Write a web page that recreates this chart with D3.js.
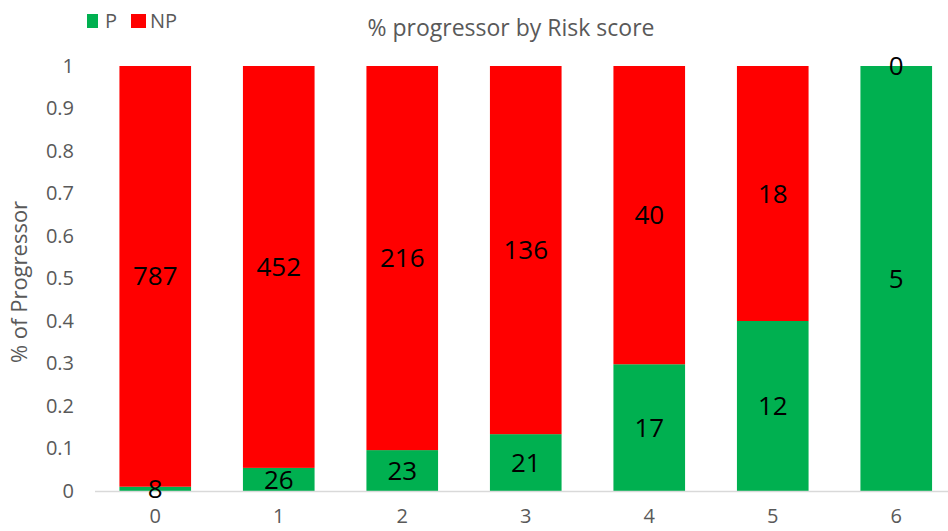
<!DOCTYPE html>
<html>
<head>
<meta charset="utf-8">
<script src="https://cdn.jsdelivr.net/npm/d3@7"></script>
<style>
  html, body { margin: 0; padding: 0; background: #fff; }
  svg { display: block; font-family: "Open Sans", "Noto Sans", sans-serif; }
</style>
</head>
<body>
<svg id="chart" width="948" height="531"></svg>
<script>
// Risk score categories and counts of progressors (P) / non-progressors (NP)
const categories = ["0", "1", "2", "3", "4", "5", "6"];
const progressors = [8, 26, 23, 21, 17, 12, 5];
const nonProgressors = [787, 452, 216, 136, 40, 18, 0];
const yTicks = [0, 0.1, 0.2, 0.3, 0.4, 0.5, 0.6, 0.7, 0.8, 0.9, 1];
const seriesNames = ["P", "NP"];
const seriesColors = ["#00B050", "#FF0000"];

const rows = categories.map((c, i) => {
  const total = progressors[i] + nonProgressors[i];
  return { cat: c, P: progressors[i] / total, NP: nonProgressors[i] / total,
           Pn: progressors[i], NPn: nonProgressors[i] };
});

const svg = d3.select("#chart");
const plot = { top: 66, bottom: 491 };

const x = d3.scaleBand().domain(categories).range([93.5, 958]).paddingInner(0.42).paddingOuter(0.21);
const y = d3.scaleLinear().domain([0, 1]).range([plot.bottom, plot.top]);

const layers = d3.stack().keys(seriesNames)(rows);
const color = d3.scaleOrdinal().domain(seriesNames).range(seriesColors);

// y axis tick labels (no axis line)
const yAxis = svg.append("g").attr("transform", "translate(74,0)")
  .call(d3.axisLeft(y).tickValues(yTicks).tickSize(0).tickPadding(0).tickFormat(d3.format("~g")));
yAxis.select(".domain").remove();
yAxis.selectAll("text").attr("fill", "#595959").attr("font-size", 20)
  .attr("font-family", "'Open Sans', sans-serif");

// stacked bars
svg.append("g").selectAll("g").data(layers).join("g")
  .attr("fill", d => color(d.key))
  .selectAll("rect").data(d => d).join("rect")
  .attr("x", d => x(d.data.cat))
  .attr("width", x.bandwidth())
  .attr("y", d => y(d[1]))
  .attr("height", d => y(d[0]) - y(d[1]));

// baseline
svg.append("line").attr("x1", 95).attr("x2", 948)
  .attr("y1", y(0) + 0.5).attr("y2", y(0) + 0.5)
  .attr("stroke", "#d9d9d9").attr("stroke-width", 1.5);

// x axis labels
const xAxis = svg.append("g").attr("transform", `translate(0,${y(0)})`)
  .call(d3.axisBottom(x).tickSize(0).tickPadding(18));
xAxis.select(".domain").remove();
xAxis.selectAll("text").attr("fill", "#595959").attr("font-size", 20)
  .attr("font-family", "'Open Sans', sans-serif");

// count labels centred in each segment
layers.forEach(layer => {
  svg.append("g").selectAll("text").data(layer).join("text")
    .attr("x", d => x(d.data.cat) + x.bandwidth() / 2)
    .attr("y", d => y((d[0] + d[1]) / 2))
    .attr("dy", "0.35em")
    .attr("text-anchor", "middle")
    .attr("font-size", 26)
    .attr("fill", "#000")
    .text(d => layer.key === "P" ? d.data.Pn : d.data.NPn);
});

// title
svg.append("text").attr("x", 511).attr("y", 36).attr("text-anchor", "middle")
  .attr("font-size", 23).attr("fill", "#595959").text("% progressor by Risk score");

// y axis title
svg.append("text").attr("transform", "translate(27,282) rotate(-90)")
  .attr("text-anchor", "middle").attr("font-size", 22).attr("fill", "#595959")
  .text("% of Progressor");

// legend
const legend = svg.append("g");
const legendX = [87, 131];
seriesNames.forEach((name, i) => {
  legend.append("rect").attr("x", legendX[i]).attr("y", 14).attr("width", i ? 15 : 11)
    .attr("height", 14).attr("fill", seriesColors[i]);
  legend.append("text").attr("x", legendX[i] + (i ? 19 : 18)).attr("y", 28)
    .attr("font-size", 20).attr("fill", "#595959").text(name);
});
</script>
</body>
</html>
